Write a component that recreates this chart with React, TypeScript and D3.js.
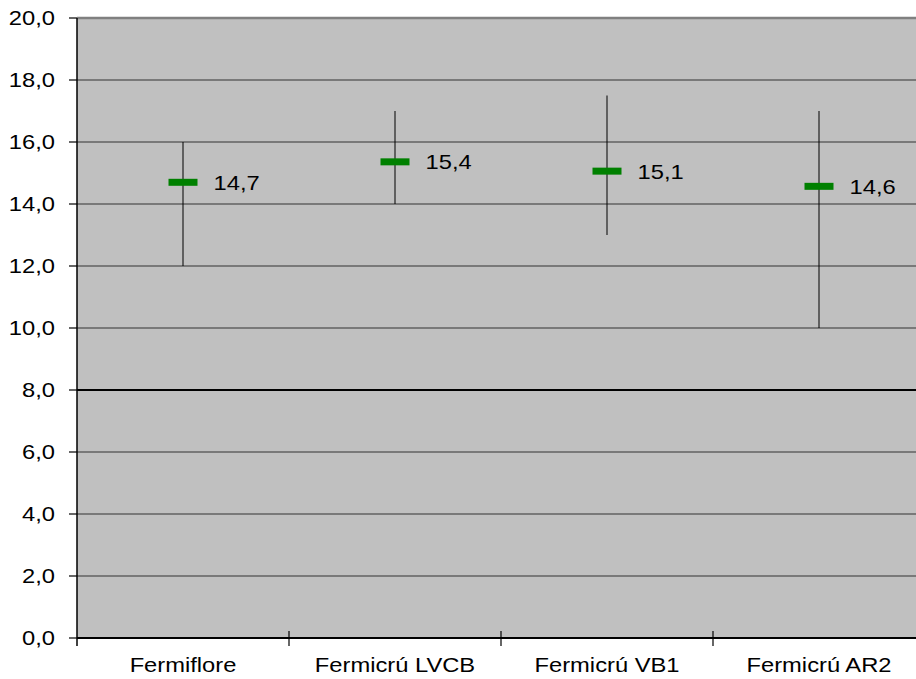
import React from "react";
import * as d3 from "d3";

const categories = ["Fermiflore", "Fermicrú LVCB", "Fermicrú VB1", "Fermicrú AR2"];
const means = [14.7, 15.36, 15.06, 14.57];
const lows = [12, 14, 13, 10];
const highs = [16, 17, 17.5, 17];
const yTicks = [0, 2, 4, 6, 8, 10, 12, 14, 16, 18, 20];

const W = 916;
const H = 679;
const left = 77;
const right = 925;
const top = 18;
const bottom = 638;
const font = "'Liberation Sans', Arial, sans-serif";
const sx = 1.13;

export default function App() {
  const x = d3.scaleBand<string>().domain(categories).range([left, right]).padding(0);
  const y = d3.scaleLinear().domain([0, 20]).range([bottom, top]);
  const fmt = (v: number) => v.toFixed(1).replace(".", ",");

  return (
    <svg width={W} height={H} style={{ position: "absolute", left: 0, top: 0, background: "#fff" }}>
      <rect x={left} y={top} width={right - left} height={bottom - top} fill="#C0C0C0" />
      {yTicks.map((t) => (
        <g key={t}>
          {t !== 0 && t !== 20 && (
            <line x1={left} x2={right} y1={y(t)} y2={y(t)} stroke={t === 8 ? "#000" : "#333"} strokeWidth={t === 8 ? 2 : 1.2} />
          )}
          <line x1={69} x2={t === 20 ? 85 : left} y1={y(t)} y2={y(t)} stroke="#000" strokeWidth={1.2} />
          <text
            transform={`translate(55,${y(t)}) scale(${sx},1)`}
            textAnchor="end"
            dominantBaseline="central"
            fontFamily={font}
            fontSize={21}
            fill="#000"
          >
            {fmt(t)}
          </text>
        </g>
      ))}
      <line x1={left} x2={right} y1={top} y2={top} stroke="#808080" strokeWidth={2.5} />
      <line x1={left} x2={left} y1={top} y2={bottom + 8} stroke="#000" strokeWidth={1.5} />
      <line x1={left} x2={right} y1={bottom} y2={bottom} stroke="#000" strokeWidth={2} />
      {categories.slice(1).map((c) => (
        <line key={c} x1={x(c)!} x2={x(c)!} y1={bottom - 7} y2={bottom + 8} stroke="#000" strokeWidth={1.2} />
      ))}
      {categories.map((c, i) => {
        const cx = x(c)! + x.bandwidth() / 2;
        return (
          <g key={c}>
            <line x1={cx} x2={cx} y1={y(lows[i])} y2={y(highs[i])} stroke="#000" strokeWidth={1} />
            <rect x={cx - 14.5} y={y(means[i]) - 3.5} width={29} height={7} fill="#008000" />
            <text
              transform={`translate(${cx + 30.5},${y(means[i]) + 0.5}) scale(${sx},1)`}
              dominantBaseline="central"
              fontFamily={font}
              fontSize={21}
              fill="#000"
            >
              {fmt(means[i])}
            </text>
            <text
              transform={`translate(${cx},${bottom + 34}) scale(${sx},1)`}
              textAnchor="middle"
              fontFamily={font}
              fontSize={21}
              fill="#000"
            >
              {c}
            </text>
          </g>
        );
      })}
    </svg>
  );
}
